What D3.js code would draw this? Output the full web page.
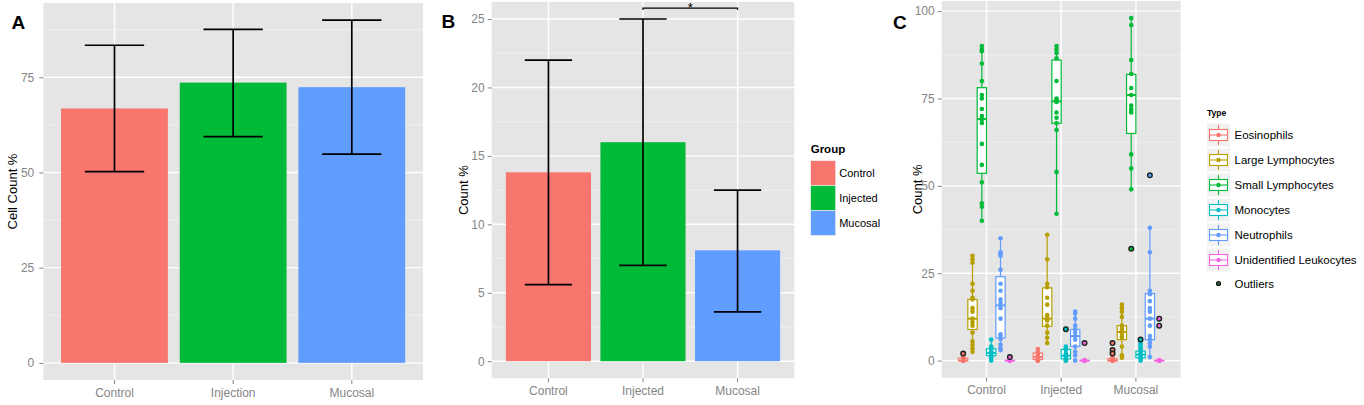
<!DOCTYPE html>
<html>
<head>
<meta charset="utf-8">
<script src="https://cdn.jsdelivr.net/npm/d3@7"></script>
<style>
  body { margin: 0; background: #fff; }
  svg { display: block; font-family: "Liberation Sans", Arial, sans-serif; }
</style>
</head>
<body>
<svg width="1364" height="405"></svg>
<script>
const svg = d3.select('svg');

// ---- panel A : cell count % ----
const groupsA = ['Control', 'Injection', 'Mucosal'];
const meanA = [66.8, 73.6, 72.4];
const lowA = [50.2, 59.4, 54.8];
const highA = [83.4, 87.6, 90.0];
const ticksA = [0, 25, 50, 75];

// ---- panel B : count % by group ----
const groupsB = ['Control', 'Injected', 'Mucosal'];
const meanB = [13.8, 16.0, 8.1];
const lowB = [5.6, 7.0, 3.6];
const highB = [22.0, 25.0, 12.5];
const ticksB = [0, 5, 10, 15, 20, 25];
const sigPairB = ['Injected', 'Mucosal'];
const sigValueB = 25.8;

const groupColors = ['#F8766D', '#00BA38', '#619CFF'];

// ---- panel C : cell types (box = [lower whisker, q1, median, q3, upper whisker]) ----
const groupsC = ['Control', 'Injected', 'Mucosal'];
const types = ['Eosinophils', 'Large Lymphocytes', 'Small Lymphocytes', 'Monocytes', 'Neutrophils', 'Unidentified Leukocytes'];
const typeColors = ['#F8766D', '#B79F00', '#00BA38', '#00BFC4', '#619CFF', '#F564E3'];
const ticksC = [0, 25, 50, 75, 100];

const eosBox = [[0, 0, 0, 0.7, 1.2], [0, 0.3, 1, 2.2, 3.3], [0, 0, 0, 0.5, 1]];
const eosPts = [[0, 0, 0, 0, 0, 0, 0.3, 0.5, 0.8, 1.2], [0, 0, 0, 0.5, 1, 1, 1.5, 2, 2.5, 3.3], [0, 0, 0, 0, 0, 0.5, 1]];
const eosOut = [[2], [], [5, 3, 2]];

const largeBox = [[2.5, 8.9, 12, 17.5, 30], [5, 9.8, 12, 20.8, 36], [0.8, 6, 8.2, 10, 16]];
const largePts = [[30, 29, 28, 22, 20, 18, 17.5, 15, 14, 12, 11, 10, 8, 5.5, 4.5, 3.5, 2.5],
                  [36, 29, 22, 21, 18, 16, 13, 12, 11.5, 10, 8, 6.5, 5],
                  [16, 15, 14, 12.5, 10, 9, 8, 7, 6.5, 4, 1.5, 0.8]];
const largeOut = [[], [], []];

const smallBox = [[40, 53.6, 69.1, 78.1, 90], [42, 67.9, 74.2, 86, 90], [49, 65, 76, 81.9, 98]];
const smallPts = [[90, 89, 88.5, 85, 80, 76, 75, 72, 70, 69, 68, 62, 56, 51, 45, 44, 40],
                  [90, 89, 88, 86.5, 80, 75, 74.5, 74, 71, 69.5, 68, 66, 54, 42],
                  [98, 96, 86, 82, 78, 76, 73, 72, 71.5, 71, 59, 55, 49]];
const smallOut = [[], [], [32]];

const monoBox = [[0, 1.4, 2.2, 3.4, 6], [0, 0.5, 1.4, 3.2, 4], [0, 0.8, 1.7, 2.7, 5]];
const monoPts = [[6, 4, 3.5, 3, 2.5, 2, 2, 1.5, 1, 1, 0.5, 0],
                 [4, 3.5, 3, 2, 1.5, 1, 0.5, 0, 0],
                 [5, 4.5, 4, 3.5, 3, 2.5, 2, 1.5, 1, 0.5, 0]];
const monoOut = [[], [9], [6]];

const neutBox = [[2.9, 6.5, 15.8, 24, 35], [0, 4.1, 7, 8.9, 14], [1, 6, 12, 19.2, 38]];
const neutPts = [[35, 31, 30.5, 30, 26, 22, 20, 17.5, 16.5, 15, 12, 7.5, 7, 6.2, 4.6, 3.6, 3],
                 [14, 13.5, 12, 10, 9, 8, 7, 6, 4, 2.5, 1.5, 0],
                 [38, 31, 20, 19, 17, 15, 14, 12, 10, 7, 6, 5, 4, 1]];
const neutOut = [[], [], [53]];

const unidBox = [[0, 0, 0, 0, 0], [0, 0, 0, 0, 0], [0, 0, 0, 0, 0]];
const unidPts = [[0, 0, 0, 0, 0, 0], [0, 0, 0, 0, 0], [0, 0, 0, 0, 0]];
const unidOut = [[1], [5], [12, 10]];

const boxes = [eosBox, largeBox, smallBox, monoBox, neutBox, unidBox];
const points = [eosPts, largePts, smallPts, monoPts, neutPts, unidPts];
const outliers = [eosOut, largeOut, smallOut, monoOut, neutOut, unidOut];

const tickGrey = '#858585';

// grey ggplot-like panel with grid and axes
const makePanel = (box, groups, yDomain, ticks, yPad, yTitle) => {
  const [x0, x1, y0, y1] = box;
  const x = d3.scaleBand().domain(groups).range([x0, x1]).paddingInner(0).paddingOuter(0.1);
  const y = d3.scaleLinear().domain(yDomain).range([y1, y0]);
  const cx = d => x(d) + x.bandwidth() / 2;
  const step = ticks[1] - ticks[0];
  const minor = ticks.map(t => t + step / 2).filter(t => t < yDomain[1]);

  const g = svg.append('g');
  g.append('rect')
    .attr('x', x0).attr('y', y0)
    .attr('width', x1 - x0).attr('height', y1 - y0)
    .attr('fill', '#E5E5E5');
  g.selectAll('line.minor').data(minor).join('line')
    .attr('class', 'minor')
    .attr('x1', x0).attr('x2', x1)
    .attr('y1', d => y(d)).attr('y2', d => y(d))
    .attr('stroke', '#F2F2F2').attr('stroke-width', 0.8);
  g.selectAll('line.major').data(ticks).join('line')
    .attr('class', 'major')
    .attr('x1', x0).attr('x2', x1)
    .attr('y1', d => y(d)).attr('y2', d => y(d))
    .attr('stroke', '#fff').attr('stroke-width', 1.4);
  g.selectAll('line.vmajor').data(groups).join('line')
    .attr('class', 'vmajor')
    .attr('x1', cx).attr('x2', cx)
    .attr('y1', y0).attr('y2', y1)
    .attr('stroke', '#fff').attr('stroke-width', 1.4);

  const yAxis = g.append('g')
    .attr('transform', `translate(${x0},0)`)
    .call(d3.axisLeft(y).tickValues(ticks).tickSize(4).tickPadding(yPad));
  const xAxis = g.append('g')
    .attr('transform', `translate(0,${y1})`)
    .call(d3.axisBottom(x).tickSize(4).tickPadding(4));
  [yAxis, xAxis].forEach(a => {
    a.attr('font-family', null).attr('font-size', null);
    a.select('.domain').remove();
    a.selectAll('.tick line').attr('stroke', tickGrey);
    a.selectAll('.tick text').attr('fill', tickGrey).style('font-size', '12px');
  });

  svg.append('text')
    .attr('transform', `translate(${x0 - yTitle},${(y0 + y1) / 2}) rotate(-90)`)
    .attr('text-anchor', 'middle')
    .attr('dy', '0.35em')
    .style('font-size', '13px')
    .attr('fill', '#000')
    .text(groups === groupsA ? 'Cell Count %' : 'Count %');

  return { x, y, cx, g };
};

const errorBars = (p, groups, low, high, capWidth) => {
  const half = p.x.bandwidth() * capWidth / 2;
  const eb = p.g.selectAll('g.err').data(groups).join('g').attr('class', 'err')
    .attr('stroke', '#000').attr('stroke-width', 1.7);
  eb.append('line')
    .attr('x1', d => p.cx(d)).attr('x2', d => p.cx(d))
    .attr('y1', (d, i) => p.y(low[i])).attr('y2', (d, i) => p.y(high[i]));
  eb.append('line')
    .attr('x1', d => p.cx(d) - half).attr('x2', d => p.cx(d) + half)
    .attr('y1', (d, i) => p.y(low[i])).attr('y2', (d, i) => p.y(low[i]));
  eb.append('line')
    .attr('x1', d => p.cx(d) - half).attr('x2', d => p.cx(d) + half)
    .attr('y1', (d, i) => p.y(high[i])).attr('y2', (d, i) => p.y(high[i]));
};

const bars = (p, groups, means) => {
  p.g.selectAll('rect.bar').data(groups).join('rect')
    .attr('class', 'bar')
    .attr('x', d => p.x(d) + p.x.bandwidth() * 0.05)
    .attr('width', p.x.bandwidth() * 0.9)
    .attr('y', (d, i) => p.y(means[i]))
    .attr('height', (d, i) => p.y(0) - p.y(means[i]))
    .attr('fill', (d, i) => groupColors[i]);
};

const letter = (t, x, y) => svg.append('text')
  .attr('x', x).attr('y', y)
  .style('font-size', '19px').style('font-weight', 'bold')
  .text(t);

// ---------- A ----------
const pA = makePanel([43.3, 423, 3, 380], groupsA, [-4.5, 94.5], ticksA, 5, 31);
bars(pA, groupsA, meanA);
errorBars(pA, groupsA, lowA, highA, 0.5);
letter('A', 11.5, 28.5);

// ---------- B ----------
const pB = makePanel([491.7, 794.3, 1.9, 378.3], groupsB, [-1.25, 26.25], ticksB, 3, 28);
bars(pB, groupsB, meanB);
errorBars(pB, groupsB, lowB, highB, 0.5);
letter('B', 441.5, 27.5);

const sx0 = pB.cx(sigPairB[0]), sx1 = pB.cx(sigPairB[1]);
const sy = pB.y(sigValueB);
svg.append('path')
  .attr('d', `M${sx0},${sy + 2}V${sy}H${sx1}V${sy + 2}`)
  .attr('fill', 'none').attr('stroke', '#000').attr('stroke-width', 1.2);
svg.append('text')
  .attr('x', (sx0 + sx1) / 2).attr('y', sy + 3.6)
  .attr('text-anchor', 'middle')
  .style('font-size', '13px')
  .text('*');

// legend B
const legB = svg.append('g').attr('transform', 'translate(810.7,0)');
legB.append('text').attr('x', 0).attr('y', 153.3)
  .style('font-size', '11.5px').style('font-weight', 'bold').text('Group');
legB.selectAll('rect').data(groupsB).join('rect')
  .attr('x', 0).attr('y', (d, i) => 160.7 + i * 24.9)
  .attr('width', 25).attr('height', 24.9)
  .attr('fill', (d, i) => groupColors[i])
  .attr('stroke', '#F2F2F2').attr('stroke-width', 0.6);
legB.selectAll('text.lab').data(groupsB).join('text')
  .attr('class', 'lab')
  .attr('x', 28.5).attr('y', (d, i) => 160.7 + i * 24.9 + 12.4)
  .attr('dy', '0.35em')
  .style('font-size', '11px')
  .text(d => d);

// ---------- C ----------
const pC = makePanel([941.7, 1180.7, 1, 377.7], groupsC, [-4.9, 102.9], ticksC, 3, 24);
letter('C', 893, 28.5);

const bw = pC.x.bandwidth();
const dodge = d3.scaleBand().domain(types).range([-0.375 * bw, 0.375 * bw]).padding(0);
const boxW = dodge.bandwidth();

types.forEach((t, ti) => {
  const col = typeColors[ti];
  groupsC.forEach((grp, gi) => {
    const [lo, q1, med, q3, hi] = boxes[ti][gi];
    const xc = pC.cx(grp) + dodge(t) + boxW / 2;
    const gg = pC.g.append('g');
    gg.append('line')
      .attr('x1', xc).attr('x2', xc)
      .attr('y1', pC.y(lo)).attr('y2', pC.y(hi))
      .attr('stroke', col).attr('stroke-width', 1.2);
    gg.append('rect')
      .attr('x', xc - boxW / 2).attr('width', boxW)
      .attr('y', pC.y(q3)).attr('height', Math.max(pC.y(q1) - pC.y(q3), 0.01))
      .attr('fill', '#fff').attr('stroke', col).attr('stroke-width', 1.2);
    gg.append('line')
      .attr('x1', xc - boxW / 2).attr('x2', xc + boxW / 2)
      .attr('y1', pC.y(med)).attr('y2', pC.y(med))
      .attr('stroke', col).attr('stroke-width', 2);
    gg.selectAll('circle.pt').data(points[ti][gi]).join('circle')
      .attr('class', 'pt')
      .attr('cx', xc).attr('cy', d => pC.y(d)).attr('r', 2.3)
      .attr('fill', col);
    gg.selectAll('circle.out').data(outliers[ti][gi]).join('circle')
      .attr('class', 'out')
      .attr('cx', xc).attr('cy', d => pC.y(d)).attr('r', 2.3)
      .attr('fill', col).attr('stroke', '#15241c').attr('stroke-width', 1.4);
  });
});

// legend C
const legC = svg.append('g').attr('transform', 'translate(1207,0)');
legC.append('text').attr('x', 0).attr('y', 116)
  .style('font-size', '8.5px').style('font-weight', 'bold').text('Type');
const rowY = i => 135 + i * 25;
types.forEach((t, i) => {
  const cy = rowY(i), col = typeColors[i];
  const k = legC.append('g');
  k.append('rect').attr('x', 0).attr('y', cy - 11.5).attr('width', 23).attr('height', 23).attr('fill', '#F2F2F2');
  k.append('line').attr('x1', 11.5).attr('x2', 11.5).attr('y1', cy - 10).attr('y2', cy + 10)
    .attr('stroke', col).attr('stroke-width', 1.1);
  k.append('rect').attr('x', 2.5).attr('y', cy - 5.5).attr('width', 18).attr('height', 11)
    .attr('fill', '#fff').attr('stroke', col).attr('stroke-width', 1.1);
  k.append('line').attr('x1', 2.5).attr('x2', 20.5).attr('y1', cy).attr('y2', cy)
    .attr('stroke', col).attr('stroke-width', 1.1);
  k.append('circle').attr('cx', 11.5).attr('cy', cy).attr('r', 2.2).attr('fill', col);
  legC.append('text').attr('x', 27.5).attr('y', cy).attr('dy', '0.35em')
    .style('font-size', '11.5px').text(t);
});
legC.append('circle').attr('cx', 11.5).attr('cy', 283.5).attr('r', 2)
  .attr('fill', '#2f5a3c').attr('stroke', '#0d1a12').attr('stroke-width', 1.2);
legC.append('text').attr('x', 27.5).attr('y', 283.5).attr('dy', '0.35em')
  .style('font-size', '11.5px').text('Outliers');
</script>
</body>
</html>
